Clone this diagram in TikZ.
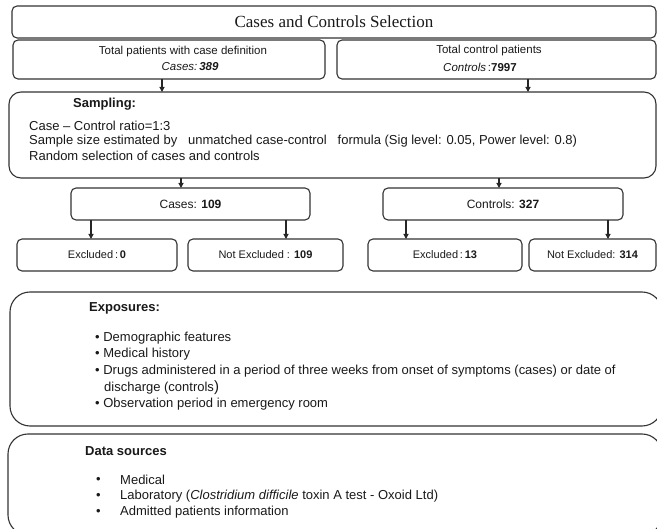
\documentclass[tikz,border=0pt]{standalone}
\usepackage{fontspec}
\setmainfont{Liberation Sans}
\newfontfamily\titleserif{Liberation Serif}
\usetikzlibrary{arrows.meta}
\begin{document}
\begin{tikzpicture}[x=1pt,y=-1pt,
  box/.style={draw=black!80, line width=1.1pt, rounded corners=5pt, inner sep=0pt, outer sep=0pt,
              font=\fontsize{11}{13}\selectfont, text=black!90},
  bigbox/.style={draw=black!80, line width=1.1pt, inner sep=0pt, outer sep=0pt},
  arr/.style={draw=black!85, line width=1.1pt, -{Triangle[length=5pt,width=5pt]}},
  lbl/.style={inner sep=0pt, text=black!90, font=\fontsize{11.5}{13}\selectfont},
  txt/.style={inner sep=0pt, anchor=west, text=black!90, font=\fontsize{13}{15}\selectfont},
  head/.style={txt, font=\bfseries\fontsize{13}{15}\selectfont},
]
\useasboundingbox (0,0) rectangle (657,529);
\clip (0,0) rectangle (657,529);

% title
\node[box, minimum width=644pt, minimum height=32pt, font=\titleserif\fontsize{17}{20}\selectfont] (title) at (334,22) {Cases and Controls Selection};

% totals
\node[box, minimum width=312pt, minimum height=39pt] (casedef) at (169,59.5) {};
\node[lbl] (casedefA) at (183,52) {Total patients with case definition};
\node[lbl] (casedefB) at (190,67) {\textit{Cases:}\,\textbf{\textit{389}}};
\node[box, minimum width=319pt, minimum height=39pt] (ctrldef) at (496.5,59.5) {};
\node[lbl] (ctrldefA) at (489,51) {Total control patients};
\node[lbl] (ctrldefB) at (480,67) {\textit{Controls}\,:\textbf{7997}};

% sampling
\node[bigbox, rounded corners=12pt, minimum width=647pt, minimum height=86pt] (sampling) at (332.5,135) {};
\node[head] (samphead) at (73,104) {Sampling:};
\node[txt] (samp1) at (29,126) {Case -- Control ratio=1:3};
\node[txt] (samp2) at (29,141) {Sample size estimated by \ \ unmatched case-control \ \ formula (Sig level: 0.05, Power level: 0.8)};
\node[txt] (samp3) at (29,156) {Random selection of cases and controls};

\draw[arr] ([xshift=-7pt]casedef.south) -- ([xshift=-7pt]casedef.south |- sampling.north);
\draw[arr] ([xshift=31.5pt]ctrldef.south) -- ([xshift=31.5pt]ctrldef.south |- sampling.north);

% cases / controls
\node[box, minimum width=239pt, minimum height=32pt, font=\fontsize{12}{14}\selectfont] (cases) at (190.5,204) {Cases: \textbf{109}};
\node[box, minimum width=240pt, minimum height=32pt, font=\fontsize{12}{14}\selectfont] (controls) at (503,204) {Controls: \textbf{327}};

\draw[arr] ([xshift=-9.5pt]cases.north |- sampling.south) -- ([xshift=-9.5pt]cases.north);
\draw[arr] ([xshift=-4pt]controls.north |- sampling.south) -- ([xshift=-4pt]controls.north);

% excluded boxes
\node[box, minimum width=160pt, minimum height=32pt] (excl0) at (97,255) {Excluded\,:\,\textbf{0}};
\node[box, minimum width=155pt, minimum height=32pt] (nexcl109) at (265.5,255) {Not Excluded : \textbf{109}};
\node[box, minimum width=154pt, minimum height=32pt] (excl13) at (445,255) {Excluded\,:\,\textbf{13}};
\node[box, minimum width=127pt, minimum height=32pt] (nexcl314) at (592.5,255) {Not Excluded: \textbf{314}};

\draw[arr] ([xshift=-99.5pt]cases.south) -- ([xshift=-99.5pt]cases.south |- excl0.north);
\draw[arr] ([xshift=95.5pt]cases.south) -- ([xshift=95.5pt]cases.south |- nexcl109.north);
\draw[arr] ([xshift=-97pt]controls.south) -- ([xshift=-97pt]controls.south |- excl13.north);
\draw[arr] ([xshift=105pt]controls.south) -- ([xshift=105pt]controls.south |- nexcl314.north);

% exposures
\node[bigbox, rounded corners=20pt, minimum width=652pt, minimum height=134pt] (exposures) at (336,359) {};
\node[head] (exphead) at (89,308) {Exposures:};
\node[txt] (exp1) at (95,338) {\textbullet\ Demographic features};
\node[txt] (exp2) at (95,354) {\textbullet\ Medical history};
\node[txt] (exp3) at (95,371) {\textbullet\ Drugs administered in a period of three weeks from onset of symptoms (cases) or date of};
\node[txt] (exp4) at (104,388) {discharge (controls{\fontsize{15}{15}\selectfont )}};
\node[txt] (exp5) at (95,404) {\textbullet\ Observation period in emergency room};

% data sources
\node[bigbox, rounded corners=20pt, minimum width=654pt, minimum height=101pt] (datasrc) at (335,484.5) {};
\node[head] (datahead) at (85,451) {Data sources};
\node[txt] (dot1) at (96,480) {\textbullet};
\node[txt] (data1) at (120,480) {Medical};
\node[txt] (dot2) at (96,496) {\textbullet};
\node[txt] (data2) at (120,496) {Laboratory (\textit{Clostridium difficile} toxin A test - Oxoid Ltd)};
\node[txt] (dot3) at (96,512) {\textbullet};
\node[txt] (data3) at (120,512) {Admitted patients information};
\end{tikzpicture}
\end{document}
